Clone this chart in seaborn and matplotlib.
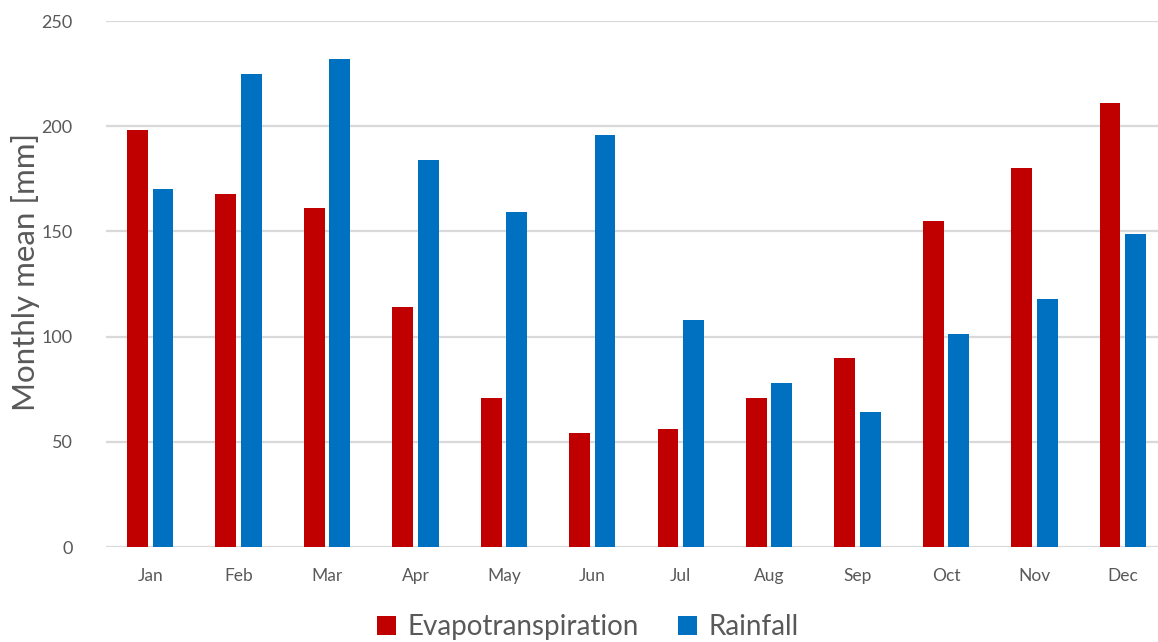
import matplotlib
matplotlib.use("Agg")
import matplotlib.pyplot as plt
import seaborn as sns
import pandas as pd

months = ["Jan", "Feb", "Mar", "Apr", "May", "Jun",
          "Jul", "Aug", "Sep", "Oct", "Nov", "Dec"]
evapotranspiration = [198, 168, 161, 114, 71, 54, 56, 71, 90, 155, 180, 211]
rainfall = [170, 225, 232, 184, 159, 196, 108, 78, 64, 101, 118, 149]
series_names = ["Evapotranspiration", "Rainfall"]
y_ticks = [0, 50, 100, 150, 200, 250]

df = pd.DataFrame({
    "Month": months * 2,
    "Value": evapotranspiration + rainfall,
    "Series": [series_names[0]] * 12 + [series_names[1]] * 12,
})

sns.set_theme(style="white")
plt.rcParams["font.family"] = ["Lato", "DejaVu Sans"]

text_color = "#595959"
grid_color = "#D9D9D9"
palette = {"Evapotranspiration": "#C00000", "Rainfall": "#0070C0"}

fig = plt.figure(figsize=(11.58, 6.42), dpi=100)
ax = fig.add_axes([106 / 1158, 95 / 642, 1061 / 1158, 526 / 642])

sns.barplot(data=df, x="Month", y="Value", hue="Series", order=months,
            hue_order=series_names, palette=palette, width=0.576, gap=0.18,
            saturation=1, ax=ax, edgecolor="none")

ax.set_xlim(-0.5, 11.5)
ax.set_ylim(0, 250)
ax.set_yticks(y_ticks)
ax.yaxis.grid(True, color=grid_color, linewidth=1.6)
ax.set_axisbelow(True)
for s in ax.spines.values():
    s.set_visible(False)

ax.tick_params(axis="y", length=0, pad=24, labelsize=13, labelcolor=text_color)
ax.tick_params(axis="x", length=0, pad=15, labelsize=12.5, labelcolor=text_color)
ax.set_xlabel("")
ax.set_ylabel("Monthly mean [mm]", fontsize=22.5, color=text_color)
ax.yaxis.set_label_coords(-0.062, 0.523)

handles, labels = ax.get_legend_handles_labels()
ax.legend(handles, labels, loc="center", bbox_to_anchor=(0.454, -0.153),
          ncol=2, frameon=False, fontsize=20, labelcolor=text_color,
          handlelength=0.7, handleheight=0.7, handletextpad=0.4,
          columnspacing=1.4)

fig.savefig("out.png", dpi=100)
